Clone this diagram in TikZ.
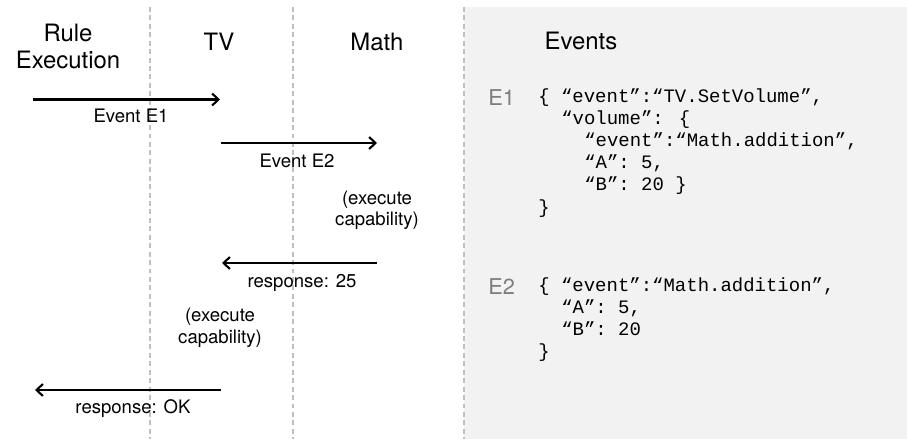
\documentclass[tikz,border=0pt]{standalone}
\usepackage{fontspec}
\setmainfont{TeX Gyre Heros}
\newfontfamily\codefont{Liberation Mono}
\usetikzlibrary{arrows.meta}
\definecolor{panelgray}{RGB}{242,242,242}
\definecolor{lifegray}{RGB}{192,192,192}
\definecolor{taggray}{RGB}{125,125,125}

\begin{document}
\begin{tikzpicture}[
	x=0.025cm, y=-0.025cm,
	lifeline/.style={
		color=lifegray,
		line width=1.4pt,
		dash pattern=on 3.5pt off 2.5pt
	},
	msgarrow/.style={
		-{Straight Barb[length=4.5pt,width=8.5pt]},
		line width=1.5pt
	},
	header/.style={
		font=\fontsize{17}{19.9}\selectfont,
		align=center,
		anchor=base
	},
	msglabel/.style={
		font=\fontsize{13.2}{15.6}\selectfont,
		align=center,
		anchor=base
	},
	eventtag/.style={
		font=\fontsize{15.5}{18}\selectfont,
		color=taggray,
		anchor=base west,
		inner sep=0pt
	},
	codeline/.style={
		font=\codefont\fontsize{13.5}{16}\selectfont,
		anchor=base west,
		inner sep=0pt
	}
	]
	\useasboundingbox (0,0) rectangle (907,439);
	
	% Events panel
	\fill[panelgray] (464,7) rectangle (907,439);
	
	% Lifelines
	\draw[lifeline] (150,7) -- (150,439);
	\draw[lifeline] (293,7) -- (293,439);
	\draw[lifeline] (464,7) -- (464,439);
	
	% Headers (multi-line nodes sit on their last baseline)
	\node[header] (hdrule) at (68,69) {Rule\\Execution};
	\node[header] (hdtv) at (219,51) {TV};
	\node[header] (hdmath) at (377,51) {Math};
	\node[header] (hdevents) at (581,50) {Events};
	
	% Message end points
	\coordinate (reout) at (33,99.5);
	\coordinate (tvin) at (220,99.5);
	\coordinate (tvout) at (221,143);
	\coordinate (mathin) at (377,143);
	\coordinate (mathback) at (377,263);
	\coordinate (tvback) at (222,263);
	\coordinate (tvreply) at (221,390);
	\coordinate (reback) at (35,390);
	
	% Messages
	\draw[msgarrow] (reout) -- (tvin);
	\draw[msgarrow] (tvout) -- (mathin);
	\draw[msgarrow] (mathback) -- (tvback);
	\draw[msgarrow] (tvreply) -- (reback);
	
	% Message labels
	\node[msglabel] (lble1) at (131,123) {Event E1};
	\node[msglabel] (lble2) at (297,167) {Event E2};
	\node[msglabel] (execmath) at (377,226) {(execute\\capability)};
	\node[msglabel] (lblresp25) at (302,287) {response: 25};
	\node[msglabel] (exectv) at (220,343) {(execute\\capability)};
	\node[msglabel] (lblrespok) at (133,413) {response: OK};
	
	% Event E1
	\node[eventtag] (tage1) at (488,106) {E1};
	\node[codeline] (eone1) at (538,103) {\{ “event”:“TV.SetVolume”,};
	\node[codeline] (eone2) at (561,125) {“volume”: \{};
	\node[codeline] (eone3) at (584,147) {“event”:“Math.addition”,};
	\node[codeline] (eone4) at (584,169) {“A”: 5,};
	\node[codeline] (eone5) at (584,191) {“B”: 20 \}};
	\node[codeline] (eone6) at (538,213) {\}};
	
	% Event E2
	\node[eventtag] (tage2) at (488,294) {E2};
	\node[codeline] (etwo1) at (538,291) {\{ “event”:“Math.addition”,};
	\node[codeline] (etwo2) at (561,313) {“A”: 5,};
	\node[codeline] (etwo3) at (561,335) {“B”: 20};
	\node[codeline] (etwo4) at (538,357) {\}};
	
\end{tikzpicture}
\end{document}
